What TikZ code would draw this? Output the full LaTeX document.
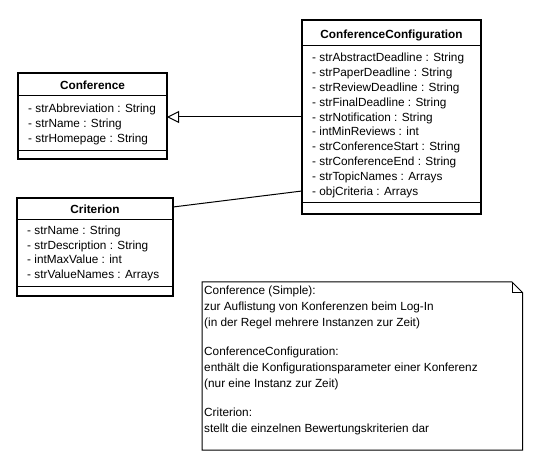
\documentclass[tikz,border=0pt]{standalone}
\usepackage{fontspec}
\setmainfont{Liberation Sans}
\usetikzlibrary{arrows.meta,calc}
\begin{document}
\begin{tikzpicture}[x=1pt,y=-1pt,
  umlbox/.style={draw, line width=2pt, rectangle, inner sep=0pt, outer sep=0pt},
  sepline/.style={line width=1pt},
  umltitle/.style={font=\fontsize{11.8}{14}\selectfont\bfseries, anchor=base, inner sep=0pt},
  umlattr/.style={font=\fontsize{11.8}{14}\selectfont, anchor=base west, inner sep=0pt},
  notetxt/.style={font=\fontsize{11.8}{14}\selectfont, anchor=base west, inner sep=0pt},
  conn/.style={line width=1pt},
]
\useasboundingbox[fill=white] (0,0) rectangle (557,470);

% Conference
\node[umlbox, minimum width=149pt, minimum height=86.5pt] (conf) at (92.5,116.25) {};
\node[umltitle] (conf-t) at (92.5,90) {Conference};
\draw[sepline] ($(conf.north west)+(0,22.5)$) -- ($(conf.north east)+(0,22.5)$);
\draw[sepline] ($(conf.north west)+(0,77.5)$) -- ($(conf.north east)+(0,77.5)$);
\foreach \t [count=\i from 0] in {- strAbbreviation : String, - strName : String, - strHomepage : String}
  \node[umlattr] (conf-a\i) at (28,112.5+14.8*\i) {\t};

% ConferenceConfiguration
\node[umlbox, minimum width=179pt, minimum height=194pt] (cc) at (391.5,117) {};
\node[umltitle] (cc-t) at (391.5,38.5) {ConferenceConfiguration};
\draw[sepline] ($(cc.north west)+(0,26)$) -- ($(cc.north east)+(0,26)$);
\draw[sepline] ($(cc.north west)+(0,183)$) -- ($(cc.north east)+(0,183)$);
\foreach \t [count=\i from 0] in {- strAbstractDeadline : String, - strPaperDeadline : String,
  - strReviewDeadline : String, - strFinalDeadline : String, - strNotification : String,
  - intMinReviews : int, - strConferenceStart : String, - strConferenceEnd : String,
  - strTopicNames : Arrays, - objCriteria : Arrays}
  \node[umlattr] (cc-a\i) at (312,62+14.8*\i) {\t};

% Criterion
\node[umlbox, minimum width=156pt, minimum height=98.5pt] (crit) at (95,247.25) {};
\node[umltitle] (crit-t) at (95,213.5) {Criterion};
\draw[sepline] ($(crit.north west)+(0,22)$) -- ($(crit.north east)+(0,22)$);
\draw[sepline] ($(crit.north west)+(0,88.5)$) -- ($(crit.north east)+(0,88.5)$);
\foreach \t [count=\i from 0] in {- strName : String, - strDescription : String,
  - intMaxValue : int, - strValueNames : Arrays}
  \node[umlattr] (crit-a\i) at (27,234.8+14.6*\i) {\t};

% connectors
\draw[conn, -{Triangle[open, length=12pt, width=12pt, fill=white]}] (cc.west) -- (cc.west -| conf.east);
\path (crit.north east) ++(0,9) coordinate (critA);
\path (cc.south west) ++(0,-23) coordinate (ccA);
\draw[conn] (critA) -- (ccA);

% note
\draw[line width=1pt] (202,282) -- (512,282) -- (522.5,292.5) -- (522.5,450) -- (202,450) -- cycle;
\draw[line width=1pt] (512,282) -- (512,292.5) -- (522.5,292.5);
\node[notetxt] (n0) at (204,295) {Conference (Simple):};
\node[notetxt] (n1) at (204,310.7) {zur Auflistung von Konferenzen beim Log-In};
\node[notetxt] (n2) at (204,326.3) {(in der Regel mehrere Instanzen zur Zeit)};
\node[notetxt] (n3) at (204,355.7) {ConferenceConfiguration:};
\node[notetxt] (n4) at (204,371.3) {enthält die Konfigurationsparameter einer Konferenz};
\node[notetxt] (n5) at (204,387) {(nur eine Instanz zur Zeit)};
\node[notetxt] (n6) at (204,416.5) {Criterion:};
\node[notetxt] (n7) at (204,432) {stellt die einzelnen Bewertungskriterien dar};
\end{tikzpicture}
\end{document}
